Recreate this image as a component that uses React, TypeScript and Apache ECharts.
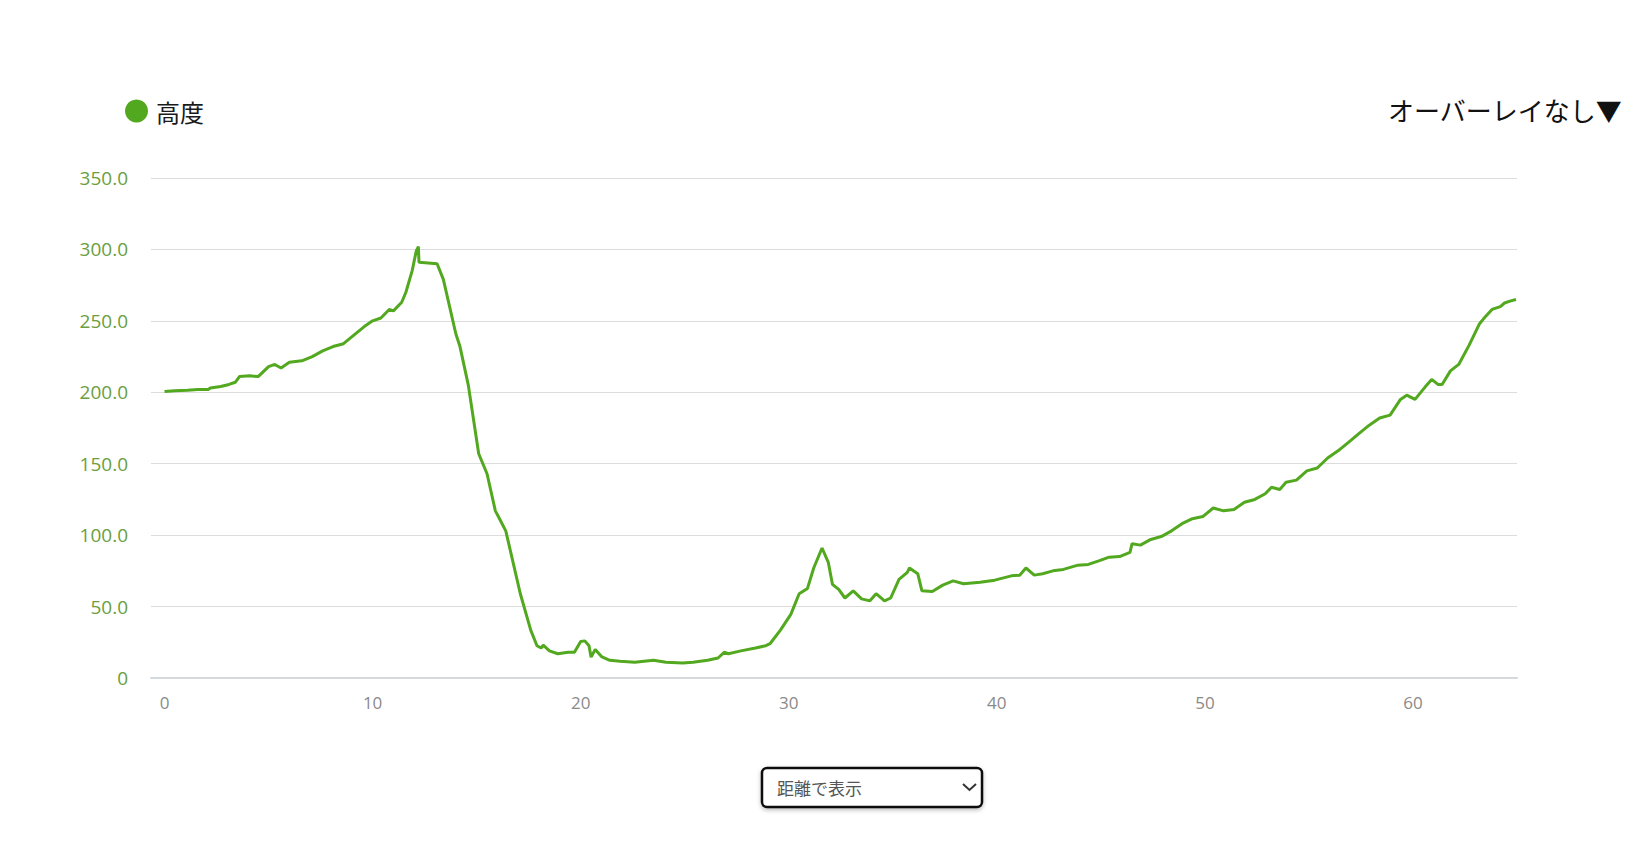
import React, { useEffect, useRef } from "react";
import * as echarts from "echarts";

const seriesName = "高度";
const overlayLabel = "オーバーレイなし▼";
const selectLabel = "距離で表示";
const xTickValues = [0, 10, 20, 30, 40, 50, 60];

const distanceKm = [
  0, 0.5, 1.1, 1.6, 2.1, 2.2, 2.7, 3.1, 3.4, 3.6, 4.1, 4.5, 5.0, 5.3, 5.6, 6.0, 6.6, 7.1, 7.6, 8.1, 8.6,
  9.1, 9.6, 10.0, 10.4, 10.8, 11.0, 11.4, 11.6, 11.9, 12.1, 12.2, 12.23, 13.1, 13.4, 14.0, 14.2, 14.6,
  15.1, 15.5, 15.9, 16.1, 16.4, 17.1, 17.6, 17.9, 18.1, 18.2, 18.5, 18.9, 19.4, 19.7, 20.0, 20.2, 20.4,
  20.5, 20.7, 21.0, 21.4, 21.9, 22.6, 23.5, 24.1, 24.9, 25.4, 26.1, 26.6, 26.9, 27.1, 27.7, 28.4, 28.9,
  29.1, 29.6, 30.1, 30.5, 30.9, 31.2, 31.6, 31.9, 32.1, 32.4, 32.7, 33.1, 33.5, 33.9, 34.2, 34.6, 34.9,
  35.3, 35.7, 35.8, 36.2, 36.4, 36.9, 37.4, 37.9, 38.4, 39.2, 39.9, 40.7, 41.1, 41.4, 41.8, 42.2, 42.7,
  43.2, 43.9, 44.4, 44.9, 45.4, 45.9, 46.4, 46.5, 46.9, 47.4, 47.9, 48.4, 48.9, 49.4, 49.9, 50.4, 50.9,
  51.4, 51.9, 52.4, 52.9, 53.2, 53.6, 53.9, 54.4, 54.9, 55.4, 55.9, 56.4, 56.9, 57.4, 57.9, 58.4, 58.9,
  59.4, 59.7, 60.1, 60.6, 60.9, 61.2, 61.4, 61.8, 62.2, 62.7, 63.2, 63.4, 63.8, 64.2, 64.4, 64.7, 64.95,
];

const elevationM = [
  200.5, 201, 201.5, 202, 202, 203, 204, 205.5, 207, 211, 211.5, 211, 218, 219.5, 217, 221, 222, 225,
  229, 232, 234, 240, 246, 250, 252, 258, 257, 263, 270, 285, 299, 302, 291, 290, 279, 241, 232, 205,
  157, 143, 117, 111.5, 103, 59, 33.5, 22.6, 21, 23, 19, 17, 18, 18, 25.5, 26, 22.6, 14.6, 20, 15, 12.4,
  11.7, 11, 12.4, 11, 10.5, 11, 12.4, 14, 18, 17, 19, 21, 22.6, 24, 33.5, 44.5, 59, 62.7, 77, 91, 81,
  65.6, 62, 56, 61, 55.4, 54, 59, 54, 56, 69, 74, 77, 73, 61, 60.5, 65, 68, 66, 67, 68.5, 71.5, 72, 77,
  72, 73, 75, 76, 79, 79.5, 82, 84.6, 85, 88, 94, 93, 97, 99, 103, 108, 111.5, 113, 119, 117, 118, 123,
  125, 129, 133.5, 132, 137, 138.5, 145, 147, 154, 159, 165, 171, 177, 182, 184, 195, 198, 195, 204,
  209, 205.5, 205.5, 215, 219.5, 233, 248, 251.6, 258, 260, 262.5, 264, 265,
];

export default function App() {
  const ref = useRef<HTMLDivElement>(null);

  useEffect(() => {
    if (!ref.current) return;
    const chart = echarts.init(ref.current, null, { renderer: "svg" });
    const data = distanceKm.map((d, i) => [d, elevationM[i]]);
    const font = "'Open Sans', 'Noto Sans CJK JP', sans-serif";
    chart.setOption({
      animation: false,
      backgroundColor: "#ffffff",
      textStyle: { fontFamily: font },
      grid: { left: 151, right: 115, top: 178, bottom: 188, containLabel: false },
      legend: {
        left: 120,
        top: 94,
        icon: "circle",
        itemWidth: 23,
        itemHeight: 23,
        data: [seriesName],
        textStyle: {
          fontSize: 24,
          color: "#1a1a1a",
          fontFamily: "'Noto Sans CJK JP', sans-serif",
          padding: [0, 0, 0, 3],
        },
      },
      xAxis: {
        type: "value",
        min: -0.65,
        max: 65.0,
        axisLine: { show: true, lineStyle: { color: "#d3d9dd", width: 2 } },
        axisTick: { show: false },
        splitLine: { show: false },
        axisLabel: {
          customValues: xTickValues,
          color: "#8a8a8a",
          fontSize: 17,
          margin: 16,
          fontFamily: font,
        },
      },
      yAxis: {
        type: "value",
        min: 0,
        max: 350,
        interval: 50,
        axisLine: { show: false },
        axisTick: { show: false },
        splitLine: { show: true, lineStyle: { color: "#dcdcdc", width: 1 } },
        axisLabel: {
          color: "#6a9e3e",
          fontSize: 19,
          margin: 23,
          fontFamily: font,
          formatter: (v: number) => (v === 0 ? "0" : v.toFixed(1)),
        },
      },
      series: [
        {
          name: seriesName,
          type: "line",
          data,
          showSymbol: false,
          symbol: "none",
          lineStyle: { color: "#52a81e", width: 3 },
          itemStyle: { color: "#52a81e" },
        },
      ],
      graphic: [
        {
          type: "text",
          right: 10,
          top: 96,
          style: {
            text: overlayLabel,
            fontSize: 26,
            fill: "#111",
            fontFamily: "'Noto Sans CJK JP', sans-serif",
          },
        },
        {
          type: "rect",
          shape: { x: 762, y: 768, width: 220, height: 39, r: 5 },
          style: {
            fill: "#fff",
            stroke: "#111",
            lineWidth: 2.5,
            shadowBlur: 4,
            shadowOffsetY: 2,
            shadowColor: "rgba(0,0,0,0.25)",
          },
        },
        {
          type: "text",
          x: 777,
          y: 787.5,
          style: {
            text: selectLabel,
            fontSize: 17,
            fill: "#555",
            verticalAlign: "middle",
            fontFamily: "'Noto Sans CJK JP', sans-serif",
          },
        },
        {
          type: "polyline",
          shape: { points: [[963, 784], [969.5, 790], [976, 784]] },
          style: { stroke: "#333", lineWidth: 2, fill: "none" },
        },
      ],
    });
    return () => chart.dispose();
  }, []);

  return (
    <div
      ref={ref}
      style={{ position: "absolute", left: 0, top: 0, width: 1632, height: 866 }}
    />
  );
}
